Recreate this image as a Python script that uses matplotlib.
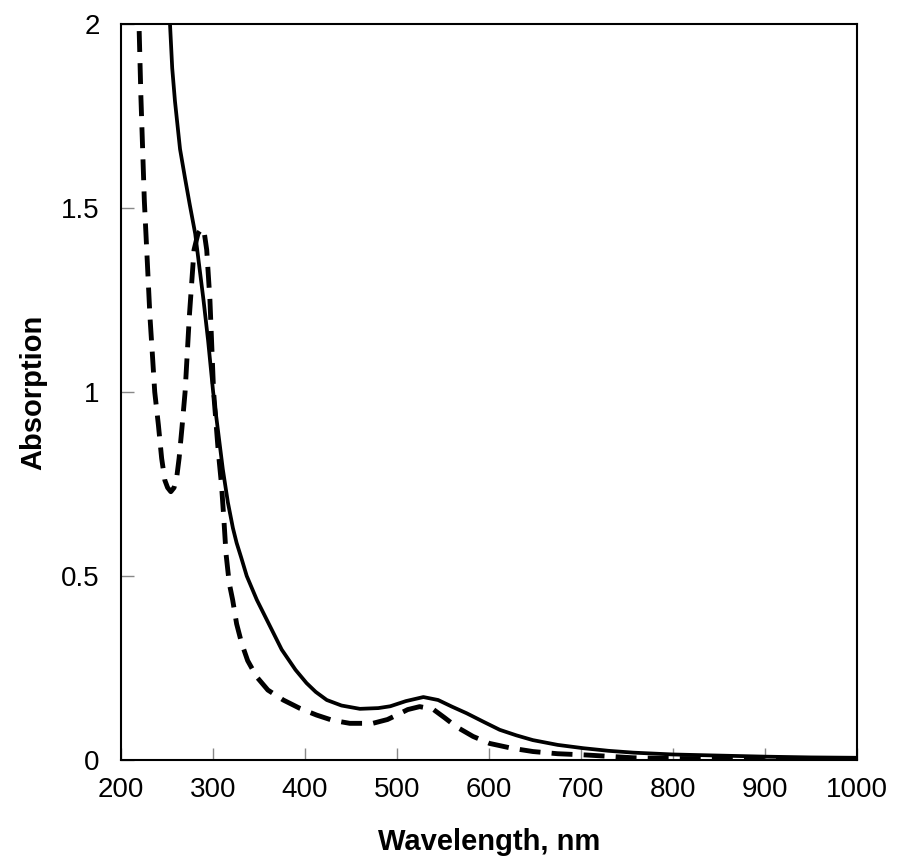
import matplotlib
matplotlib.use("Agg")
import matplotlib.pyplot as plt

plt.rcParams['font.family'] = ['Liberation Sans', 'DejaVu Sans']

# solid curve
wl_solid = [252, 253.6, 256, 259, 264.5, 270, 275, 281, 285.5, 290, 295, 300.5, 306, 311, 316.5,
            322, 326, 331, 337, 348, 360, 375, 390, 402, 412, 424, 440, 460, 480, 493, 510,
            529, 545, 560, 576, 595, 612, 630, 648, 675, 703, 730, 757, 800, 850, 902, 950, 1000]
abs_solid = [2.08, 2.0, 1.88, 1.79, 1.66, 1.58, 1.51, 1.43, 1.34, 1.25, 1.14, 1.0, 0.89, 0.79, 0.70,
             0.63, 0.59, 0.55, 0.50, 0.435, 0.375, 0.30, 0.245, 0.209, 0.185, 0.163, 0.148, 0.139, 0.141, 0.146, 0.160,
             0.171, 0.163, 0.145, 0.127, 0.103, 0.082, 0.067, 0.054, 0.041, 0.032, 0.025, 0.020, 0.015, 0.012, 0.009, 0.007, 0.006]

# dashed curve
wl_dash = [219, 219.9, 222, 225.7, 229, 231.8, 234.5, 237, 241, 244.5, 248, 251, 254.5, 258,
           261, 263.5, 266.5, 270, 274.6, 279.7, 284, 288, 291, 293.5, 297, 301, 306, 309.5,
           312, 314.5, 318, 321.7, 326, 331.5, 338, 347.8, 360, 376.7, 395, 413, 430, 449, 474,
           490, 500, 512, 525, 539.5, 552, 565, 583, 601, 625, 648, 675, 706, 757, 800, 900, 1000]
abs_dash = [2.08, 2.0, 1.8, 1.52, 1.35, 1.205, 1.10, 1.0, 0.91, 0.82, 0.76, 0.74, 0.729, 0.74,
            0.77, 0.82, 0.90, 1.0, 1.205, 1.386, 1.43, 1.445, 1.43, 1.386, 1.25, 1.0, 0.84, 0.75,
            0.66, 0.56, 0.48, 0.435, 0.37, 0.317, 0.27, 0.226, 0.19, 0.163, 0.14, 0.122, 0.108, 0.0996, 0.0996,
            0.110, 0.122, 0.137, 0.145, 0.138, 0.115, 0.090, 0.064, 0.045, 0.032, 0.023, 0.017, 0.0136, 0.006, 0.004, 0.003, 0.003]

xticks = [200, 300, 400, 500, 600, 700, 800, 900, 1000]
yticks = [0, 0.5, 1, 1.5, 2]
ytick_labels = ["0", "0.5", "1", "1.5", "2"]

fig = plt.figure(figsize=(9, 8.65), dpi=100)
ax = fig.add_axes([0.1341, 0.1214, 0.8178, 0.8509])

ax.plot(wl_solid, abs_solid, color='black', linewidth=2.7, solid_joinstyle='round')
ax.plot(wl_dash, abs_dash, color='black', linewidth=3.5, dashes=(4.3, 2.3))

ax.set_xlim(200, 1000)
ax.set_ylim(0, 2)
ax.set_xticks(xticks)
ax.set_yticks(yticks)
ax.set_yticklabels(ytick_labels)
ax.tick_params(direction='in', length=9, width=1, color='#888888', labelsize=20)
ax.tick_params(axis='x', pad=12)
ax.tick_params(axis='y', pad=15)

for s in ax.spines.values():
    s.set_linewidth(1.5)

ax.set_xlabel("Wavelength, nm", fontsize=21, fontweight='bold', labelpad=18)
ax.set_ylabel("Absorption", fontsize=21, fontweight='bold', labelpad=10)

fig.savefig("out.png", dpi=100)
